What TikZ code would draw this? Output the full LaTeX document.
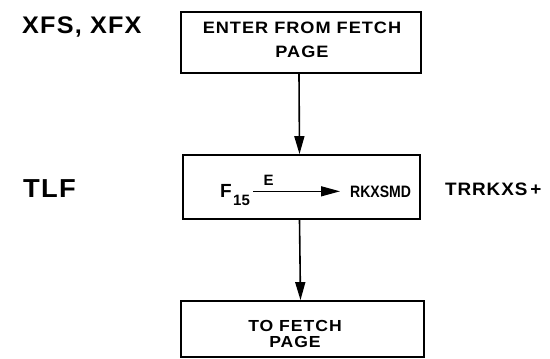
\documentclass[tikz,border=0pt]{standalone}
\usepackage{fontspec}
\setmainfont{Liberation Sans}
\newfontfamily\lr[FakeStretch=1.05,LetterSpace=5]{Liberation Sans Bold}
\newfontfamily\lw[FakeStretch=1.1,LetterSpace=6]{Liberation Sans Bold}
\newfontfamily\lb{Liberation Sans Bold}
\newfontfamily\lnarrow[FakeStretch=0.85]{Liberation Sans Bold}
\usetikzlibrary{arrows.meta}
\begin{document}
\begin{tikzpicture}[x=1pt,y=-1pt,
  box/.style={draw,line width=1.8pt,inner sep=0pt},
  flow/.style={line width=1.6pt,-{Triangle[length=18pt,width=10pt]}},
  inarrow/.style={line width=1.3pt,-{Triangle[length=19pt,width=10pt]}},
  txt/.style={inner sep=0pt,anchor=base west},
  btxt/.style={inner sep=0pt,align=center}]
\useasboundingbox (0,0) rectangle (550,359);
% boxes
\node[box,minimum width=240pt,minimum height=61pt] (b1) at (301,42.5) {};
\node[box,minimum width=237pt,minimum height=64pt] (b2) at (301.5,187) {};
\node[box,minimum width=243pt,minimum height=56pt] (b3) at (302.5,329) {};
% box texts
\node[btxt,font=\lw\fontsize{16.5}{24}\selectfont] (t1) at (302,39.5) {ENTER FROM FETCH\\PAGE};
\node[btxt,font=\lw\fontsize{16}{16}\selectfont] (t3) at (295,333.5) {TO FETCH\\PAGE};
% box 2 content
\node[txt,font=\lb\fontsize{19}{19}\selectfont] (f) at (220,197) {F};
\node[txt,font=\lb\fontsize{15}{15}\selectfont] (f15) at (233,205) {15};
\node[txt,font=\lnarrow\fontsize{16.5}{16.5}\selectfont] (r) at (350,197) {RKXSMD};
\draw[inarrow] ([xshift=3pt]f15.east |- r.west) -- node[pos=0.18,above=5pt,inner sep=0pt,font=\lb\fontsize{15}{15}\selectfont] (e) {E} ([xshift=-10pt]r.west);
% side labels
\node[txt,font=\lr\fontsize{24}{24}\selectfont] (xfs) at (22,33) {XFS, XFX};
\node[txt,font=\lr\fontsize{26}{26}\selectfont] (tlf) at (23,197) {TLF};
\node[txt,font=\lr\fontsize{18}{18}\selectfont] (trr) at (445,195) {TRRKXS\,+};
% flow arrows
\draw[flow] ([xshift=-2pt]b1.south) -- ([xshift=-2pt]b2.north);
\draw[flow] ([xshift=-2pt]b2.south) -- ([xshift=-2pt]b3.north);
\end{tikzpicture}
\end{document}
